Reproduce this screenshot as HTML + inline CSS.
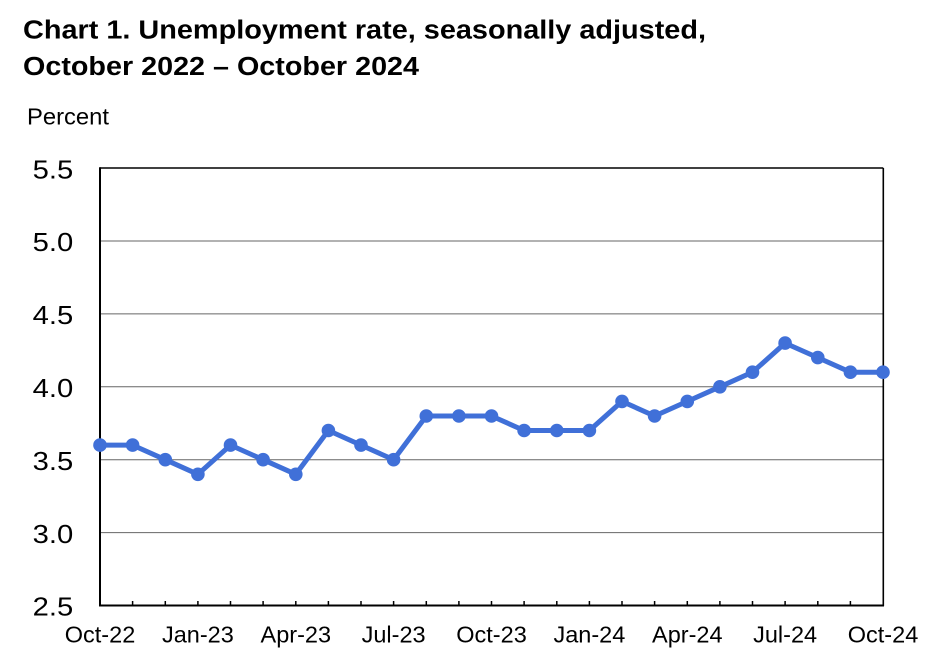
<!DOCTYPE html>
<html>
<head>
<meta charset="utf-8">
<style>
  html, body { margin: 0; padding: 0; background: #fff; }
  svg { display: block; }
  text { font-family: "Liberation Sans", Arial, sans-serif; fill: #000; }
</style>
</head>
<body>
<svg width="936" height="662" viewBox="0 0 936 662" xmlns="http://www.w3.org/2000/svg">
  <rect width="936" height="662" fill="#fff"/>
  <!-- Title -->
  <text x="23" y="38.3" font-size="25.5" font-weight="bold" textLength="683" lengthAdjust="spacingAndGlyphs">Chart 1. Unemployment rate, seasonally adjusted,</text>
  <text x="23" y="75" font-size="25.5" font-weight="bold" textLength="396" lengthAdjust="spacingAndGlyphs">October 2022 – October 2024</text>
  <text x="27" y="124.3" font-size="23" textLength="82" lengthAdjust="spacingAndGlyphs">Percent</text>

  <!-- Gridlines -->
  <g stroke="#666" stroke-width="1">
    <line x1="100" y1="241" x2="883" y2="241"/>
    <line x1="100" y1="313.9" x2="883" y2="313.9"/>
    <line x1="100" y1="386.8" x2="883" y2="386.8"/>
    <line x1="100" y1="459.7" x2="883" y2="459.7"/>
    <line x1="100" y1="532.6" x2="883" y2="532.6"/>
  </g>

  <!-- Frame -->
  <line x1="100" y1="168" x2="883.3" y2="168" stroke="#000" stroke-width="1.6"/>
  <line x1="883.3" y1="168" x2="883.3" y2="606" stroke="#000" stroke-width="1.6"/>
  <line x1="100" y1="167.2" x2="100" y2="606.5" stroke="#000" stroke-width="2"/>
  <line x1="99" y1="605.5" x2="884" y2="605.5" stroke="#000" stroke-width="2"/>

  <!-- Ticks -->
  <g stroke="#000" stroke-width="1.5">
    <line x1="132.6" y1="605" x2="132.6" y2="601"/>
    <line x1="165.3" y1="605" x2="165.3" y2="601"/>
    <line x1="197.9" y1="605" x2="197.9" y2="601"/>
    <line x1="230.5" y1="605" x2="230.5" y2="601"/>
    <line x1="263.1" y1="605" x2="263.1" y2="601"/>
    <line x1="295.8" y1="605" x2="295.8" y2="601"/>
    <line x1="328.4" y1="605" x2="328.4" y2="601"/>
    <line x1="361" y1="605" x2="361" y2="601"/>
    <line x1="393.6" y1="605" x2="393.6" y2="601"/>
    <line x1="426.3" y1="605" x2="426.3" y2="601"/>
    <line x1="458.9" y1="605" x2="458.9" y2="601"/>
    <line x1="491.5" y1="605" x2="491.5" y2="601"/>
    <line x1="524.1" y1="605" x2="524.1" y2="601"/>
    <line x1="556.8" y1="605" x2="556.8" y2="601"/>
    <line x1="589.4" y1="605" x2="589.4" y2="601"/>
    <line x1="622" y1="605" x2="622" y2="601"/>
    <line x1="654.6" y1="605" x2="654.6" y2="601"/>
    <line x1="687.3" y1="605" x2="687.3" y2="601"/>
    <line x1="719.9" y1="605" x2="719.9" y2="601"/>
    <line x1="752.5" y1="605" x2="752.5" y2="601"/>
    <line x1="785.1" y1="605" x2="785.1" y2="601"/>
    <line x1="817.8" y1="605" x2="817.8" y2="601"/>
    <line x1="850.4" y1="605" x2="850.4" y2="601"/>
  </g>

  <!-- Y labels -->
  <g font-size="25.5" text-anchor="end">
    <text x="73.3" y="178.3" textLength="40.6" lengthAdjust="spacingAndGlyphs">5.5</text>
    <text x="73.3" y="251.2" textLength="40.6" lengthAdjust="spacingAndGlyphs">5.0</text>
    <text x="73.3" y="324.1" textLength="40.6" lengthAdjust="spacingAndGlyphs">4.5</text>
    <text x="73.3" y="397" textLength="40.6" lengthAdjust="spacingAndGlyphs">4.0</text>
    <text x="73.3" y="469.9" textLength="40.6" lengthAdjust="spacingAndGlyphs">3.5</text>
    <text x="73.3" y="542.8" textLength="40.6" lengthAdjust="spacingAndGlyphs">3.0</text>
    <text x="73.3" y="615.7" textLength="40.6" lengthAdjust="spacingAndGlyphs">2.5</text>
  </g>

  <!-- X labels -->
  <g font-size="23.5" text-anchor="middle">
    <text x="100" y="642.3">Oct-22</text>
    <text x="197.9" y="642.3">Jan-23</text>
    <text x="295.8" y="642.3">Apr-23</text>
    <text x="393.6" y="642.3">Jul-23</text>
    <text x="491.5" y="642.3">Oct-23</text>
    <text x="589.4" y="642.3">Jan-24</text>
    <text x="687.3" y="642.3">Apr-24</text>
    <text x="785.1" y="642.3">Jul-24</text>
    <text x="883" y="642.3">Oct-24</text>
  </g>

  <!-- Series -->
  <polyline fill="none" stroke="#4070D8" stroke-width="5" stroke-linejoin="round" stroke-linecap="round"
    points="100,445.1 132.6,445.1 165.3,459.7 197.9,474.3 230.5,445.1 263.1,459.7 295.8,474.3 328.4,430.5 361,445.1 393.6,459.7 426.3,416 458.9,416 491.5,416 524.1,430.5 556.8,430.5 589.4,430.5 622,401.4 654.6,416 687.3,401.4 719.9,386.8 752.5,372.2 785.1,343.1 817.8,357.6 850.4,372.2 883,372.2"/>
  <g fill="#4070D8">
    <circle cx="100" cy="445.1" r="6.8"/>
    <circle cx="132.6" cy="445.1" r="6.8"/>
    <circle cx="165.3" cy="459.7" r="6.8"/>
    <circle cx="197.9" cy="474.3" r="6.8"/>
    <circle cx="230.5" cy="445.1" r="6.8"/>
    <circle cx="263.1" cy="459.7" r="6.8"/>
    <circle cx="295.8" cy="474.3" r="6.8"/>
    <circle cx="328.4" cy="430.5" r="6.8"/>
    <circle cx="361" cy="445.1" r="6.8"/>
    <circle cx="393.6" cy="459.7" r="6.8"/>
    <circle cx="426.3" cy="416" r="6.8"/>
    <circle cx="458.9" cy="416" r="6.8"/>
    <circle cx="491.5" cy="416" r="6.8"/>
    <circle cx="524.1" cy="430.5" r="6.8"/>
    <circle cx="556.8" cy="430.5" r="6.8"/>
    <circle cx="589.4" cy="430.5" r="6.8"/>
    <circle cx="622" cy="401.4" r="6.8"/>
    <circle cx="654.6" cy="416" r="6.8"/>
    <circle cx="687.3" cy="401.4" r="6.8"/>
    <circle cx="719.9" cy="386.8" r="6.8"/>
    <circle cx="752.5" cy="372.2" r="6.8"/>
    <circle cx="785.1" cy="343.1" r="6.8"/>
    <circle cx="817.8" cy="357.6" r="6.8"/>
    <circle cx="850.4" cy="372.2" r="6.8"/>
    <circle cx="883" cy="372.2" r="6.8"/>
  </g>
</svg>
</body>
</html>
